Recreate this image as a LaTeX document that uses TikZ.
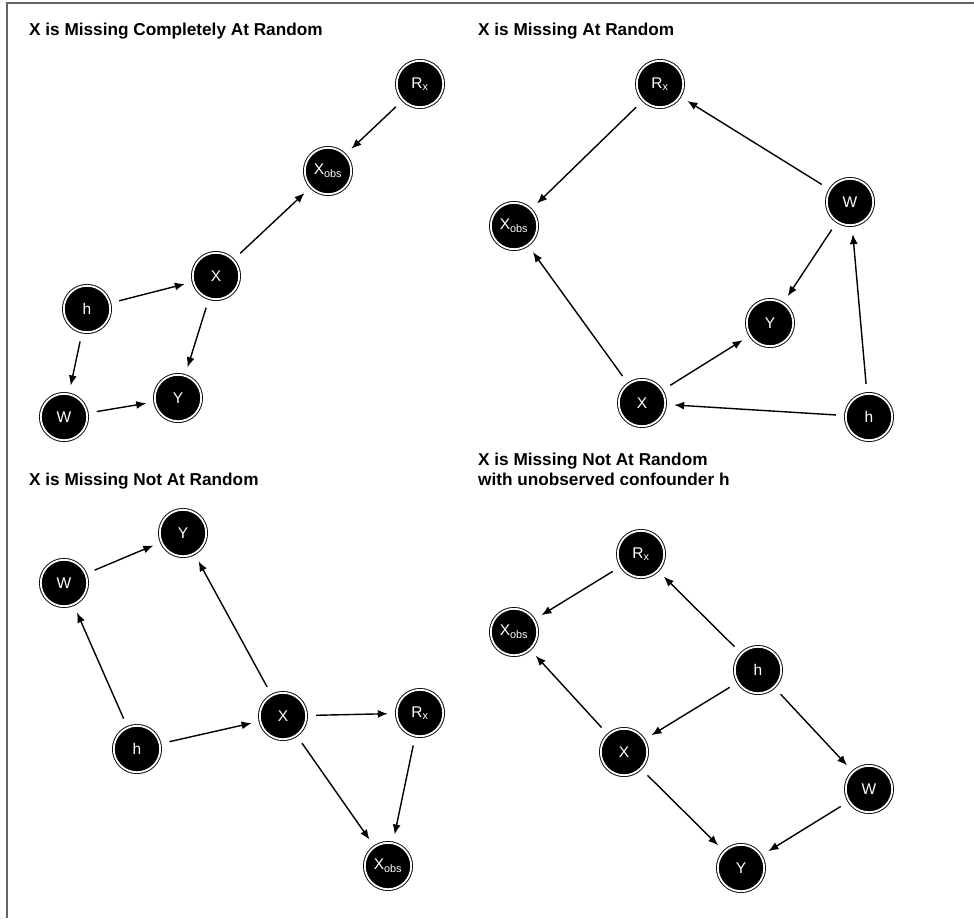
\documentclass[tikz,border=0pt]{standalone}
\usepackage{fontspec}
\setmainfont{Liberation Sans}
\usetikzlibrary{arrows.meta}
\tikzset{
  var/.style={circle,fill=black,draw=black,line width=0.9pt,double=white,double distance=1.8pt,
    minimum size=46.4pt,inner sep=0pt,outer sep=0pt,text=white,font=\fontsize{15.5}{17}\selectfont},
  arc/.style={-{Latex[length=10pt,width=8pt]},line width=1.4pt,shorten <=10pt,shorten >=9pt},
  title/.style={anchor=base west,inner sep=0pt,align=left,font=\bfseries\fontsize{17.2}{20}\selectfont}
}
\begin{document}
\begin{tikzpicture}[x=1pt,y=-1pt]
\useasboundingbox (0,0) rectangle (974,918);
\draw[line width=2pt,black!60] (7,918)--(7,3)--(974,3);
% MCAR
\node[title] at (29,35) {X is Missing Completely At Random};
\node[var] (mcarRx) at (420,84) {R\textsubscript{x}};
\node[var] (mcarXo) at (328,171) {X\textsubscript{obs}};
\node[var] (mcarX) at (216,276) {X};
\node[var] (mcarH) at (87,309) {h};
\node[var] (mcarY) at (178,398) {Y};
\node[var] (mcarW) at (64,417) {W};
\foreach \a/\b in {mcarRx/mcarXo,mcarX/mcarXo,mcarH/mcarX,mcarX/mcarY,mcarH/mcarW,mcarW/mcarY}
  \draw[arc] (\a)--(\b);
% MAR
\node[title] at (478,35) {X is Missing At Random};
\node[var] (marRx) at (660,84) {R\textsubscript{x}};
\node[var] (marXo) at (514,226) {X\textsubscript{obs}};
\node[var] (marW) at (850,202) {W};
\node[var] (marY) at (770,323) {Y};
\node[var] (marX) at (642,403) {X};
\node[var] (marH) at (869,417) {h};
\foreach \a/\b in {marRx/marXo,marW/marRx,marW/marY,marH/marW,marX/marY,marH/marX,marX/marXo}
  \draw[arc] (\a)--(\b);
% MNAR
\node[title] at (29,485) {X is Missing Not At Random};
\node[var] (mnarY) at (183,533) {Y};
\node[var] (mnarW) at (64,583) {W};
\node[var] (mnarX) at (283,716) {X};
\node[var] (mnarRx) at (420,713) {R\textsubscript{x}};
\node[var] (mnarH) at (137,749) {h};
\node[var] (mnarXo) at (388,866) {X\textsubscript{obs}};
\foreach \a/\b in {mnarW/mnarY,mnarH/mnarW,mnarX/mnarY,mnarH/mnarX,mnarX/mnarRx,mnarRx/mnarXo,mnarX/mnarXo}
  \draw[arc] (\a)--(\b);
% MNAR with confounder
\node[title] at (478,485) {X is Missing Not At Random\\with unobserved confounder h};
\node[var] (confRx) at (641,554) {R\textsubscript{x}};
\node[var] (confXo) at (514,632) {X\textsubscript{obs}};
\node[var] (confH) at (758,670) {h};
\node[var] (confX) at (624,752) {X};
\node[var] (confW) at (869,789) {W};
\node[var] (confY) at (741,868) {Y};
\foreach \a/\b in {confRx/confXo,confH/confRx,confX/confXo,confH/confX,confH/confW,confX/confY,confW/confY}
  \draw[arc] (\a)--(\b);
\end{tikzpicture}
\end{document}
